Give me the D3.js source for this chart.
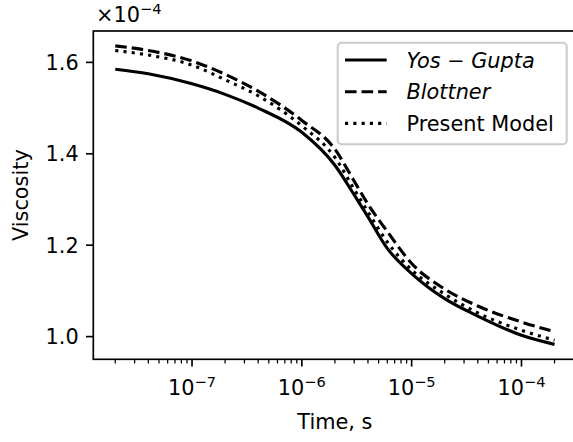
<!DOCTYPE html>
<html>
<head>
<meta charset="utf-8">
<script src="https://cdn.jsdelivr.net/npm/d3@7"></script>
<style>
  body { margin: 0; background: #fff; }
  text { font-family: "DejaVu Sans", sans-serif; fill: #000; }
</style>
</head>
<body>
<div id="chart"></div>
<script>
// Data (viscosity in units of 1e-4)
var times = [2e-8, 4e-8, 1e-7, 2e-7, 4e-7, 1e-6, 2e-6, 3e-6, 4e-6, 6e-6, 1e-5, 2e-5, 4e-5, 1e-4, 2e-4]
var yosGupta = [1.585, 1.575, 1.553, 1.530, 1.500, 1.447, 1.375, 1.310, 1.262, 1.193, 1.138, 1.083, 1.045, 1.003, 0.983]
var blottner = [1.636, 1.626, 1.603, 1.574, 1.537, 1.473, 1.410, 1.340, 1.290, 1.230, 1.160, 1.104, 1.067, 1.032, 1.011]
var presentModel = [1.626, 1.616, 1.594, 1.562, 1.527, 1.461, 1.392, 1.322, 1.273, 1.207, 1.146, 1.093, 1.052, 1.014, 0.992]
var seriesNames = ["Yos − Gupta", "Blottner", "Present Model"]
var yTicks = [1.0, 1.2, 1.4, 1.6]
var xTicks = [1e-7, 1e-6, 1e-5, 1e-4]

var s = 150 / 72   // points to pixels
var W = 573, H = 442
var margin = {top: 31, left: 93.3, bottom: 359.3, right: 576.5}

var svg = d3.select("#chart")
  .append("svg")
  .attr("width", W)
  .attr("height", H)

// x scale with matplotlib style 5% log padding
var lx0 = Math.log10(times[0]), lx1 = Math.log10(times[times.length - 1])
var px = (lx1 - lx0) * 0.05
var x = d3.scaleLog()
  .domain([Math.pow(10, lx0 - px), Math.pow(10, lx1 + px)])
  .range([margin.left, margin.right])

var allVals = yosGupta.concat(blottner, presentModel)
var ymin = d3.min(allVals), ymax = d3.max(allVals)
var py = (ymax - ymin) * 0.05
var y = d3.scaleLinear()
  .domain([ymin - py, ymax + py])
  .range([margin.bottom, margin.top])

var series = [
  {name: seriesNames[0], values: yosGupta, dash: null, italic: true},
  {name: seriesNames[1], values: blottner, dash: [3.7 * 1.5 * s, 1.6 * 1.5 * s], italic: true},
  {name: seriesNames[2], values: presentModel, dash: [1 * 1.5 * s, 1.65 * 1.5 * s], italic: false}
]

var line = d3.line()
  .x(function(d) { return x(d[0]) })
  .y(function(d) { return y(d[1]) })
  .curve(d3.curveMonotoneX)

// lines
svg.append("g")
  .selectAll("path")
  .data(series)
  .enter()
  .append("path")
  .attr("d", function(d) { return line(times.map(function(t, i) { return [t, d.values[i]] })) })
  .attr("fill", "none")
  .attr("stroke", "#000")
  .attr("stroke-width", 1.5 * s)
  .attr("stroke-dasharray", function(d) { return d.dash ? d.dash.join(",") : null })

// minor x ticks
var minor = []
for (var e = -9; e <= -3; e++) {
  for (var m = 2; m <= 9; m++) {
    var v = m * Math.pow(10, e)
    if (v >= x.domain()[0] && v <= x.domain()[1]) minor.push(v)
  }
}
svg.append("g")
  .selectAll("line")
  .data(minor)
  .enter()
  .append("line")
  .attr("x1", function(d) { return x(d) })
  .attr("x2", function(d) { return x(d) })
  .attr("y1", margin.bottom)
  .attr("y2", margin.bottom + 2 * s)
  .attr("stroke", "#000")
  .attr("stroke-width", 0.6 * s)

// major x ticks
var xt = svg.append("g")
  .selectAll("g")
  .data(xTicks)
  .enter()
  .append("g")
  .attr("transform", function(d) { return "translate(" + x(d) + ",0)" })

xt.append("line")
  .attr("y1", margin.bottom)
  .attr("y2", margin.bottom + 3.5 * s)
  .attr("stroke", "#000")
  .attr("stroke-width", 0.8 * s)

var xtl = xt.append("text")
  .attr("y", 395)
  .attr("text-anchor", "middle")
  .style("font-size", 10 * s + "px")
xtl.append("tspan").text("10")
xtl.append("tspan")
  .attr("dy", -8)
  .style("font-size", 7 * s + "px")
  .text(function(d) { return "−" + Math.round(-Math.log10(d)) })

// y ticks
var yt = svg.append("g")
  .selectAll("g")
  .data(yTicks)
  .enter()
  .append("g")
  .attr("transform", function(d) { return "translate(0," + y(d) + ")" })

yt.append("line")
  .attr("x1", margin.left)
  .attr("x2", margin.left - 3.5 * s)
  .attr("stroke", "#000")
  .attr("stroke-width", 0.8 * s)

yt.append("text")
  .attr("x", margin.left - 3.5 * s - 3.5 * s)
  .attr("dy", "0.36em")
  .attr("text-anchor", "end")
  .style("font-size", 10 * s + "px")
  .text(function(d) { return d3.format(".1f")(d) })

// spines (right spine falls outside the picture)
svg.append("rect")
  .attr("x", margin.left)
  .attr("y", margin.top)
  .attr("width", margin.right - margin.left)
  .attr("height", margin.bottom - margin.top)
  .attr("fill", "none")
  .attr("stroke", "#000")
  .attr("stroke-width", 0.8 * s)

// offset text
var off = svg.append("text")
  .attr("x", 96)
  .attr("y", 21.5)
  .style("font-size", 10 * s + "px")
off.append("tspan").text("×10")
off.append("tspan")
  .attr("dy", -8)
  .style("font-size", 7 * s + "px")
  .text("−4")

// axis labels
svg.append("text")
  .attr("x", (margin.left + margin.right) / 2)
  .attr("y", 429)
  .attr("text-anchor", "middle")
  .style("font-size", 10 * s + "px")
  .text("Time, s")

svg.append("text")
  .attr("transform", "translate(28," + (margin.top + margin.bottom) / 2 + ") rotate(-90)")
  .attr("text-anchor", "middle")
  .style("font-size", 10 * s + "px")
  .text("Viscosity")

// legend
var legend = svg.append("g")
legend.append("rect")
  .attr("x", 337.7)
  .attr("y", 42.7)
  .attr("width", 229)
  .attr("height", 101.6)
  .attr("rx", 4)
  .attr("fill", "#fff")
  .attr("fill-opacity", 0.8)
  .attr("stroke", "#cccccc")
  .attr("stroke-width", 1 * s)

var items = legend.selectAll(".item")
  .data(series)
  .enter()
  .append("g")
  .attr("transform", function(d, i) { return "translate(0," + (60 + i * 31.7) + ")" })

items.append("line")
  .attr("x1", 345)
  .attr("x2", 345 + 2 * 10 * s)
  .attr("stroke", "#000")
  .attr("stroke-width", 1.5 * s)
  .attr("stroke-dasharray", function(d) { return d.dash ? d.dash.join(",") : null })

items.append("text")
  .attr("x", 406.5)
  .attr("dy", "0.36em")
  .style("font-size", 10 * s + "px")
  .style("font-style", function(d) { return d.italic ? "italic" : "normal" })
  .text(function(d) { return d.name })
</script>
</body>
</html>
